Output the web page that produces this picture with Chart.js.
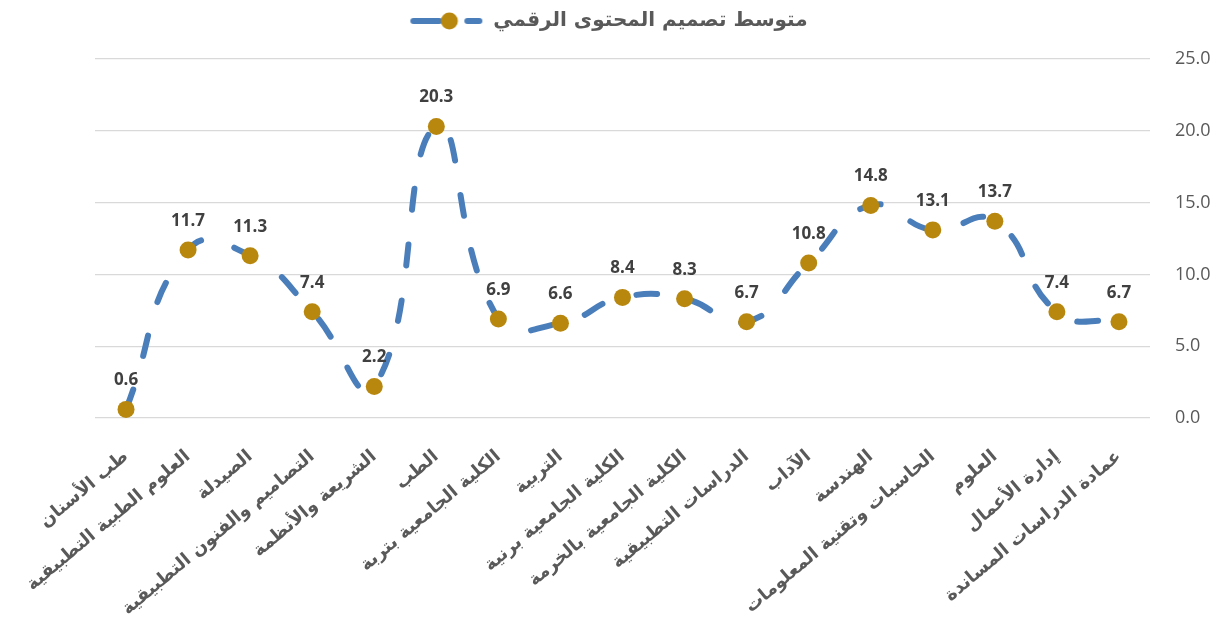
<!DOCTYPE html>
<html>
<head>
<meta charset="utf-8">
<script src="https://cdn.jsdelivr.net/npm/chart.js@4.4.1/dist/chart.umd.min.js"></script>
<style>
html,body{margin:0;padding:0;background:#fff;}
#wrap{width:1229px;height:621px;}
</style>
</head>
<body>
<div id="wrap"><canvas id="c" width="1229" height="621"></canvas></div>
<script>
const categories = ["طب الأسنان","العلوم الطبية التطبيقية","الصيدلة","التصاميم والفنون التطبيقية","الشريعة والأنظمة","الطب","الكلية الجامعية بتربة","التربية","الكلية الجامعية برنية","الكلية الجامعية بالخرمة","الدراسات التطبيقية","الآداب","الهندسة","الحاسبات وتقنية المعلومات","العلوم","إدارة الأعمال","عمادة الدراسات المساندة"];
const seriesName = "متوسط تصميم المحتوى الرقمي";
const values = [0.6, 11.7, 11.3, 7.4, 2.2, 20.3, 6.9, 6.6, 8.4, 8.3, 6.7, 10.8, 14.8, 13.1, 13.7, 7.4, 6.7];
const yTicks = [0, 5, 10, 15, 20, 25];

const LINE = '#4a7ebb';
const DOT = '#b8870e';

// legend marker image
const mk = document.createElement('canvas');
mk.width = 74; mk.height = 22;
(function(){
  const g = mk.getContext('2d');
  g.strokeStyle = LINE; g.lineWidth = 6; g.lineCap = 'round';
  g.beginPath(); g.moveTo(4, 11); g.lineTo(30, 11); g.stroke();
  g.beginPath(); g.moveTo(58, 11); g.lineTo(70, 11); g.stroke();
  g.fillStyle = DOT; g.beginPath(); g.arc(40, 11, 8.5, 0, Math.PI*2); g.fill();
})();

const labelPlugin = {
  id: 'valLabels',
  afterDatasetsDraw(chart) {
    const ctx = chart.ctx;
    const meta = chart.getDatasetMeta(0);
    ctx.save();
    ctx.font = 'bold 17px "Open Sans", "DejaVu Sans", sans-serif';
    ctx.fillStyle = '#404040';
    ctx.textAlign = 'center';
    ctx.textBaseline = 'middle';
    meta.data.forEach((pt, i) => {
      ctx.fillText(values[i].toFixed(1), pt.x, pt.y - 29);
    });
    ctx.restore();
  }
};

const legendSpace = {
  id: 'legendSpace',
  beforeLayout(chart) {
    const lg = chart.legend;
    if (lg && !lg._patched) {
      const orig = lg.fit;
      lg.fit = function() { orig.call(this); this.height += 18; };
      lg._patched = true;
    }
  }
};

new Chart(document.getElementById('c'), {
  type: 'line',
  data: {
    labels: categories,
    datasets: [{
      label: seriesName,
      data: values,
      borderColor: LINE,
      borderWidth: 6,
      borderDash: [21, 35],
      borderCapStyle: 'round',
      tension: 0.5,
      pointStyle: 'circle',
      pointRadius: 8.5,
      pointHoverRadius: 8.5,
      pointBackgroundColor: DOT,
      pointBorderColor: DOT,
      pointBorderWidth: 0,
      fill: false
    }]
  },
  options: {
    responsive: false,
    animation: false,
    layout: { padding: { left: 0, right: 12, top: 0, bottom: 0 } },
    plugins: {
      legend: {
        display: true,
        position: 'top',
        labels: {
          usePointStyle: true,
          pointStyleWidth: 74,
          color: '#595959',
          font: { size: 20, family: '"DejaVu Sans", sans-serif', weight: 'bold' },
          padding: 11,
          generateLabels(chart) {
            return [{ text: seriesName, pointStyle: mk, fillStyle: DOT, strokeStyle: DOT, lineWidth: 0, datasetIndex: 0, fontColor: '#595959' }];
          }
        }
      },
      tooltip: { enabled: false }
    },
    scales: {
      x: {
        offset: true,
        grid: { display: false, drawTicks: false },
        border: { display: false },
        afterFit(axis) { axis.height = 203; axis.paddingLeft = 95; },
        ticks: {
          color: '#595959',
          font: { size: 18, family: '"DejaVu Sans", sans-serif', weight: 'bold' },
          minRotation: 40,
          maxRotation: 40,
          autoSkip: false,
          padding: 28
        }
      },
      y: {
        position: 'right',
        min: 0,
        max: 25,
        afterBuildTicks(axis) { axis.ticks = yTicks.map(v => ({ value: v })); },
        afterFit(axis) { axis.width = 67; },
        grid: { color: '#d9d9d9', lineWidth: 1.3, drawTicks: false },
        border: { display: false },
        ticks: {
          color: '#595959',
          padding: 25,
          font: { size: 18, family: '"Open Sans", sans-serif' },
          callback: v => Number(v).toFixed(1)
        }
      }
    }
  },
  plugins: [labelPlugin, legendSpace]
});
</script>
</body>
</html>
